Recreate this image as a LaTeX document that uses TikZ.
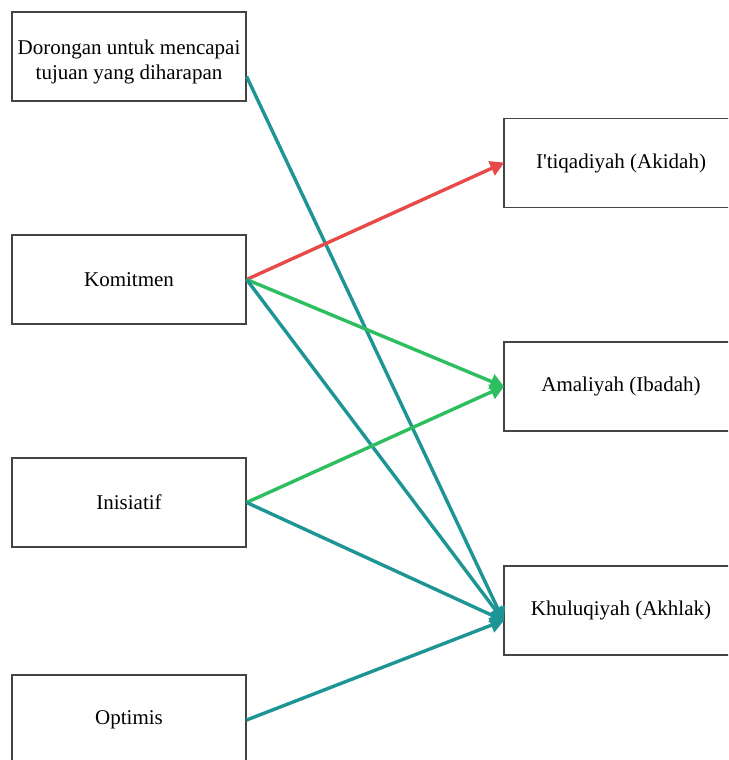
\documentclass[tikz,border=0pt]{standalone}
\usepackage{fontspec}
\setmainfont{Liberation Serif}
\usetikzlibrary{arrows.meta}
\definecolor{cred}{HTML}{E84A4A}
\definecolor{cgreen}{HTML}{2DBE60}
\definecolor{cteal}{HTML}{1E9595}
\definecolor{cbox}{HTML}{444444}
\tikzset{
  box/.style={draw=cbox, line width=1.2pt, minimum width=234pt, minimum height=89pt,
    inner sep=0pt, align=center, font=\fontsize{21}{25}\selectfont, fill=white},
  conn/.style={line width=3.4pt, -{Triangle[length=14pt,width=15pt]}, shorten >=-1pt},
}
\begin{document}
\begin{tikzpicture}[x=1pt,y=-1pt]
\useasboundingbox (0,0) rectangle (728,760);
\clip (0,0) rectangle (728,760);
\fill[white] (0,0) rectangle (728,760);
\node[box, label={[align=center, font=\fontsize{21}{25}\selectfont, yshift=-5pt]center:Dorongan untuk mencapai\\tujuan yang diharapan}] (d) at (129,56.5) {};
\node[box] (k) at (129,279.5) {Komitmen};
\node[box] (i) at (129,502.5) {Inisiatif};
\node[box, minimum height=90pt] (o) at (129,720) {Optimis};
\node[box] (it) at (621,163) {I\textquotesingle tiqadiyah (Akidah)};
\node[box] (am) at (621,386.5) {Amaliyah (Ibadah)};
\node[box] (kh) at (621,610.5) {Khuluqiyah (Akhlak)};
\draw[conn, cteal] ([yshift=-20pt]d.east) -- ([yshift=-10pt]kh.west);
\draw[conn, cred] (k.east) -- (it.west);
\draw[conn, cgreen] (k.east) -- (am.west);
\draw[conn, cteal] (k.east) -- ([yshift=-10pt]kh.west);
\draw[conn, cgreen] (i.east) -- (am.west);
\draw[conn, cteal] (i.east) -- ([yshift=-10pt]kh.west);
\draw[conn, cteal] (o.east) -- ([yshift=-10pt]kh.west);
\end{tikzpicture}
\end{document}
